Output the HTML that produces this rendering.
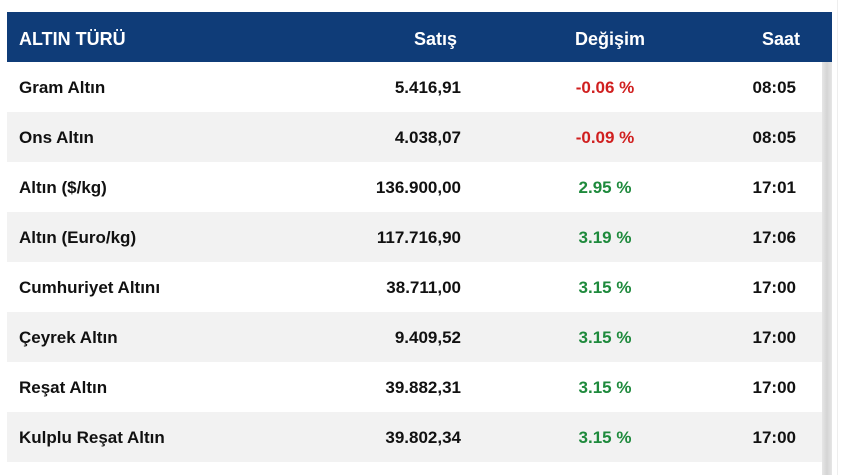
<!DOCTYPE html>
<html><head><meta charset="utf-8"><style>
body{margin:0;width:847px;height:475px;background:#fff;position:relative;overflow:hidden;font-family:"Liberation Sans",sans-serif;font-weight:bold;font-size:17px;color:#111}
.hdr{position:absolute;left:7px;top:12px;width:825px;height:50px;background:#0f3c78;color:#fff;font-size:18px}
.row{position:absolute;left:7px;width:815px;height:50px}
.g{background:#f2f2f2}
span{position:absolute;top:1px;line-height:50px;white-space:nowrap}
.a{left:12px}.b{right:361px;text-align:right}.c{left:598px;transform:translateX(-50%)}.d{right:26px}
.hdr span{top:2px}
.hdr .d{right:32px}.hdr .b{right:375px}
.r{color:#d01f1f}.gr{color:#1e8a3c}
.sb{position:absolute;left:822px;top:62px;width:10px;height:413px;background:linear-gradient(90deg,#e6e6e6,#d4d4d4,#e6e6e6)}
.ln{position:absolute;left:837px;top:0;width:1px;height:475px;background:#eee}
</style></head><body>
<div class="hdr"><span class="a">ALTIN TÜRÜ</span><span class="b">Satış</span><span class="c" style="left:603px">Değişim</span><span class="d">Saat</span></div>
<div class="row" style="top:62px"><span class="a">Gram Altın</span><span class="b">5.416,91</span><span class="c r">-0.06 %</span><span class="d">08:05</span></div>
<div class="row g" style="top:112px"><span class="a">Ons Altın</span><span class="b">4.038,07</span><span class="c r">-0.09 %</span><span class="d">08:05</span></div>
<div class="row" style="top:162px"><span class="a">Altın ($/kg)</span><span class="b">136.900,00</span><span class="c gr">2.95 %</span><span class="d">17:01</span></div>
<div class="row g" style="top:212px"><span class="a">Altın (Euro/kg)</span><span class="b">117.716,90</span><span class="c gr">3.19 %</span><span class="d">17:06</span></div>
<div class="row" style="top:262px"><span class="a">Cumhuriyet Altını</span><span class="b">38.711,00</span><span class="c gr">3.15 %</span><span class="d">17:00</span></div>
<div class="row g" style="top:312px"><span class="a">Çeyrek Altın</span><span class="b">9.409,52</span><span class="c gr">3.15 %</span><span class="d">17:00</span></div>
<div class="row" style="top:362px"><span class="a">Reşat Altın</span><span class="b">39.882,31</span><span class="c gr">3.15 %</span><span class="d">17:00</span></div>
<div class="row g" style="top:412px"><span class="a">Kulplu Reşat Altın</span><span class="b">39.802,34</span><span class="c gr">3.15 %</span><span class="d">17:00</span></div>
<div class="sb"></div><div class="ln"></div>
</body></html>
